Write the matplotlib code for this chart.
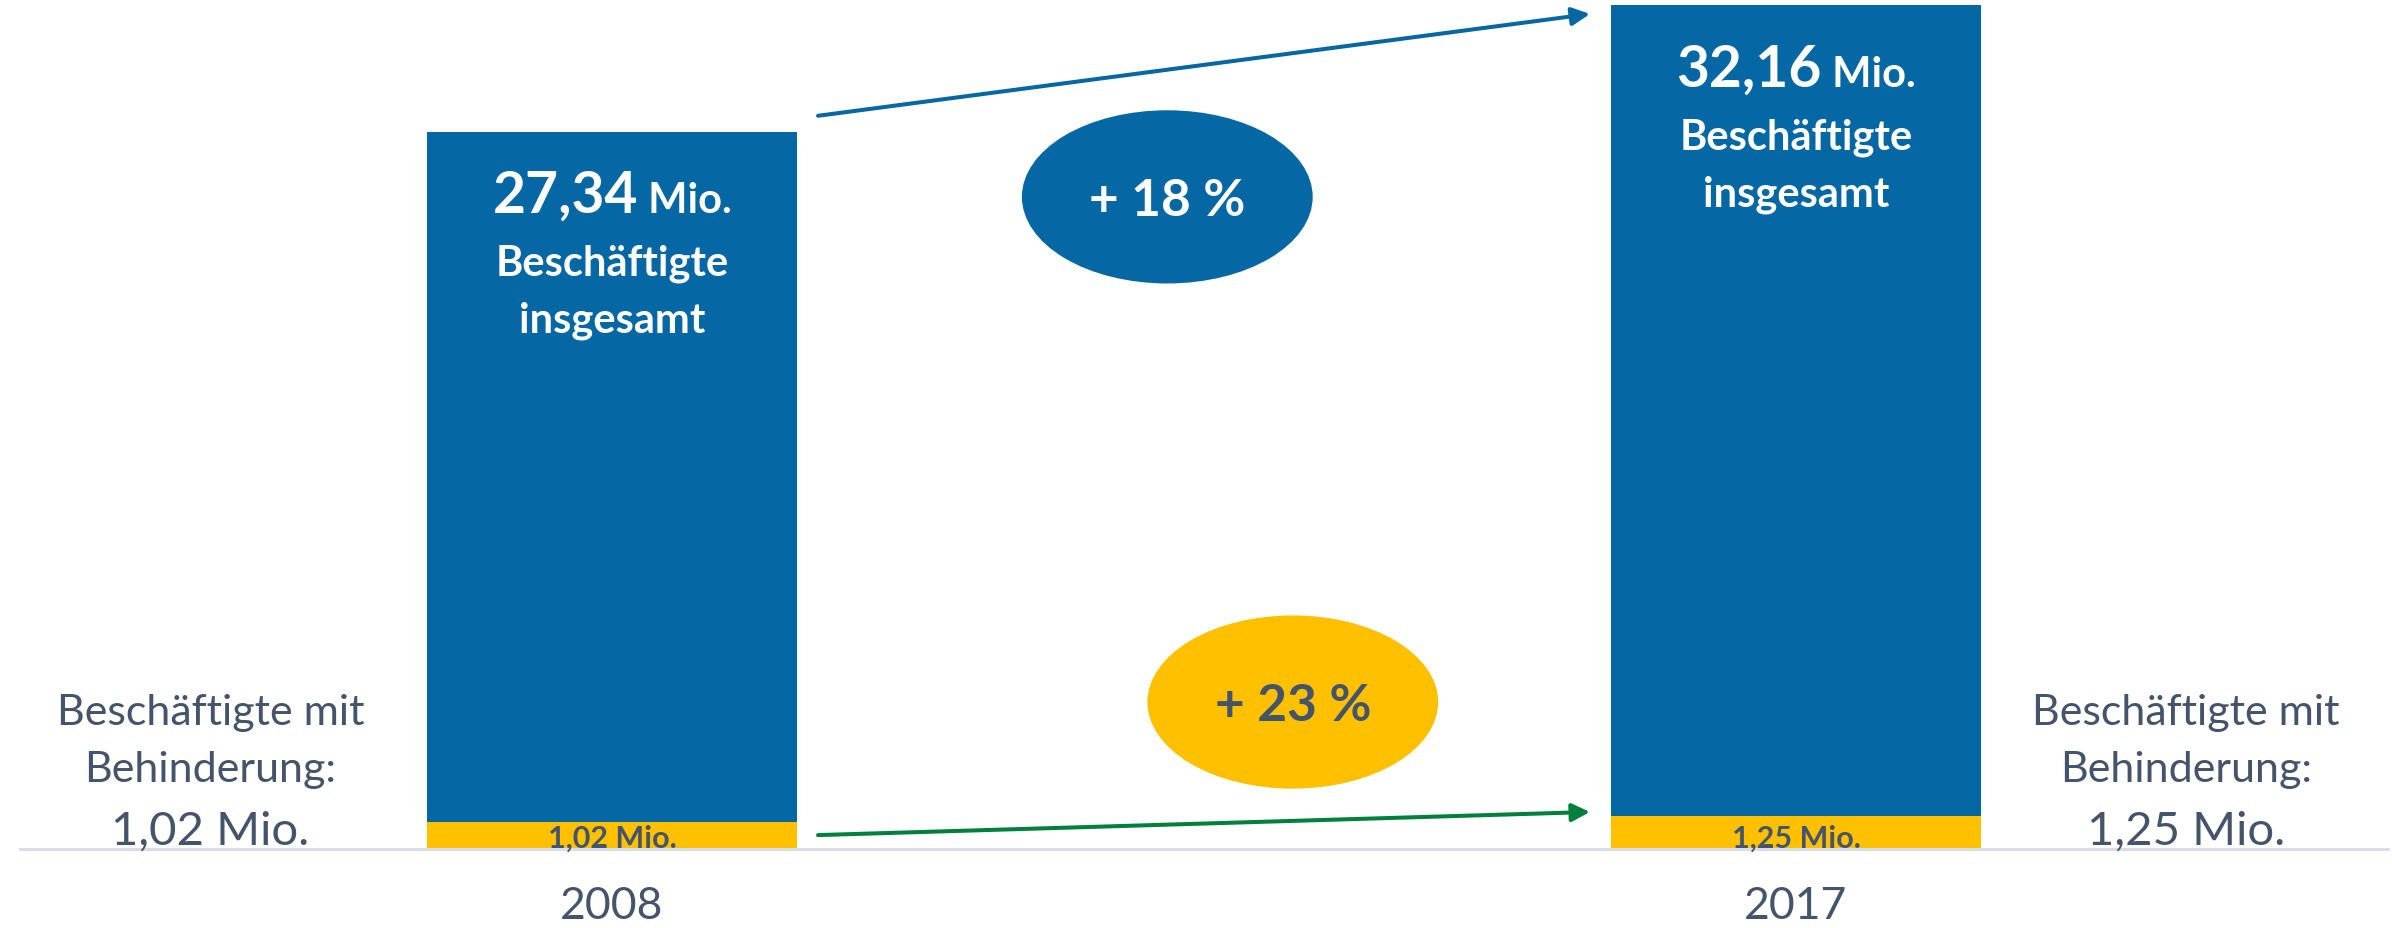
import matplotlib
matplotlib.use('Agg')
import matplotlib.pyplot as plt
from matplotlib.patches import Ellipse

plt.rcParams['font.family'] = ['Lato', 'DejaVu Sans']

years = ['2008', '2017']
total = [27.34, 32.16]          # Beschäftigte insgesamt, Mio.
disabled = [1.02, 1.25]         # Beschäftigte mit Behinderung, Mio.
total_lbl = ['27,34', '32,16']
disabled_lbl = ['1,02 Mio.', '1,25 Mio.']
growth = ['+ 18 %', '+ 23 %']

BLUE = '#0568a4'
GOLD = '#ffc000'
DARK = '#44546a'
GREEN = '#00803c'

DPI = 100
fig = plt.figure(figsize=(23.92, 9.29), dpi=DPI)
ax = fig.add_axes([20/2392, 79/929, 2368/2392, 850/929])

x = [0, 1]
w = 0.313
rest = [t - d for t, d in zip(total, disabled)]
ax.bar(x, disabled, w, color=GOLD, zorder=2)
ax.bar(x, rest, w, bottom=disabled, color=BLUE, zorder=2)

ax.set_xlim(-0.5, 1.5)
ax.set_ylim(0, 32.39)
for s in ['top', 'left', 'right']:
    ax.spines[s].set_visible(False)
ax.spines['bottom'].set_color('#d9dee6')
ax.spines['bottom'].set_linewidth(2.2)
ax.set_yticks([])
ax.set_xticks(x, years)
ax.tick_params(axis='x', length=0, pad=26, labelsize=32, labelcolor=DARK)

r = fig.canvas.get_renderer()

# labels in the bars
for i in range(2):
    t1 = ax.annotate(total_lbl[i], xy=(x[i], total[i]), xytext=(0, -58),
                     textcoords='offset points', ha='left', va='baseline',
                     fontsize=41, fontweight='bold', color='white', zorder=5)
    t2 = ax.annotate(' Mio.', xy=(x[i], total[i]), xytext=(0, -58),
                     textcoords='offset points', ha='left', va='baseline',
                     fontsize=30, fontweight='bold', color='white', zorder=5)
    w1 = t1.get_window_extent(r).width * 72 / DPI
    w2 = t2.get_window_extent(r).width * 72 / DPI
    t1.set_position((-(w1 + w2) / 2, -58))
    t2.set_position((w1 - (w1 + w2) / 2, -58))
    for txt, off in [('Beschäftigte', -103), ('insgesamt', -144)]:
        ax.annotate(txt, xy=(x[i], total[i]), xytext=(0, off),
                    textcoords='offset points', ha='center', va='baseline',
                    fontsize=30, fontweight='bold', color='white', zorder=5)
    ax.text(x[i], 0.08, disabled_lbl[i], ha='center', va='baseline',
            fontsize=22, fontweight='bold', color=DARK, zorder=5)

# side labels
for xs, lbl in [(-0.339, disabled_lbl[0]), (1.3295, disabled_lbl[1])]:
    ax.annotate('Beschäftigte mit', xy=(xs, 0), xytext=(0, 90), textcoords='offset points',
                ha='center', va='baseline', fontsize=31, color=DARK, annotation_clip=False)
    ax.annotate('Behinderung:', xy=(xs, 0), xytext=(0, 49), textcoords='offset points',
                ha='center', va='baseline', fontsize=31, color=DARK, annotation_clip=False)
    ax.annotate(lbl, xy=(xs, 0), xytext=(0, 3.6), textcoords='offset points',
                ha='center', va='baseline', fontsize=34, color=DARK, annotation_clip=False)

# arrows
gap = 0.0175
left_end = x[0] + w / 2 + gap
right_end = x[1] - w / 2 - gap
ap = dict(arrowstyle='-|>,head_length=0.6,head_width=0.3', lw=2.9,
          shrinkA=0, shrinkB=0, mutation_scale=18)
ax.annotate('', xy=(right_end, total[1] - 0.34), xytext=(left_end, total[0] + 0.6),
            arrowprops=dict(color=BLUE, **ap))
ax.annotate('', xy=(right_end, disabled[1] + 0.16), xytext=(left_end, disabled[0] - 0.49),
            arrowprops=dict(color=GREEN, **ap))

# growth ellipses
for (cx, cy), fc, tc, lbl in [((0.469, 24.85), BLUE, 'white', growth[0]),
                              ((0.575, 5.6), GOLD, DARK, growth[1])]:
    ax.add_patch(Ellipse((cx, cy), 0.2456, 6.6, facecolor=fc, edgecolor='none', zorder=3))
    ax.annotate(lbl, xy=(cx, cy), xytext=(0, -13), textcoords='offset points',
                ha='center', va='baseline', fontsize=37, fontweight='bold', color=tc, zorder=4)

fig.savefig('out.png', dpi=DPI)
